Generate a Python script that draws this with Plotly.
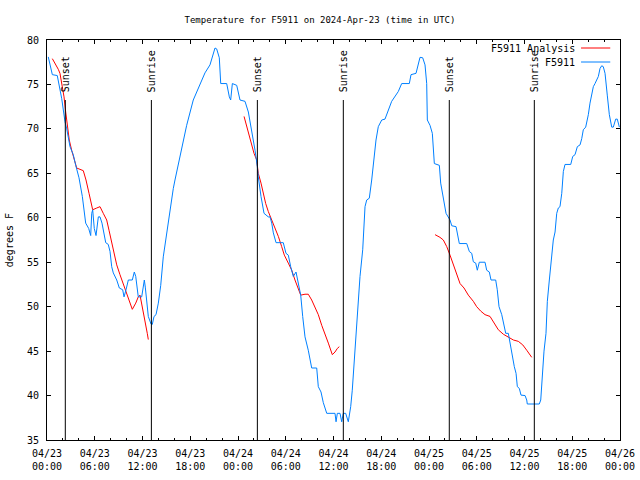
import pandas as pd
import plotly.graph_objects as go

START = pd.Timestamp("2024-04-23 00:00")

# Observed F5911 temperature: hours since 2024-04-23 00:00 UTC, degrees F
obs_hours = [0.16, 0.67, 1.29, 1.51, 1.85, 2.26, 2.48, 2.89, 3.30, 3.61, 4.02, 4.44, 4.65, 4.86, 5.24, 5.40, 5.49,
             5.62, 5.74, 5.94, 6.16, 6.45, 6.66, 6.91, 7.16, 7.38, 7.70, 7.92, 8.13, 8.33, 8.76, 9.09, 9.51, 9.68,
             9.93, 10.22, 10.72, 10.97, 11.15, 11.27, 11.47, 11.90, 12.10, 12.23, 12.35, 12.53, 12.73, 13.07, 13.23,
             13.45, 13.70, 13.99, 14.29, 14.61, 14.92, 15.24, 15.54, 15.87, 16.08, 16.71, 17.55, 18.38, 18.81, 19.23,
             19.85, 20.48, 20.90, 21.11, 21.32, 21.65, 21.83, 22.58, 22.91, 23.08, 23.29, 23.84, 24.25, 24.88, 25.30,
             25.72, 26.14, 26.43, 26.55, 26.89, 27.27, 27.81, 28.02, 28.24, 28.44, 28.78, 29.69, 30.03, 30.32, 30.62,
             30.95, 31.29, 31.58, 31.88, 32.13, 32.42, 32.83, 33.26, 33.89, 34.09, 34.43, 34.72, 35.15, 36.19, 36.32,
             36.48, 36.82, 37.03, 37.23, 37.53, 37.86, 38.16, 38.36, 38.70, 38.99, 39.33, 39.67, 39.96, 40.17, 40.50,
             40.80, 41.09, 41.34, 41.63, 42.06, 42.47, 42.89, 43.31, 44.14, 44.57, 45.53, 45.74, 46.37, 46.66, 46.87,
             47.21, 47.50, 47.71, 47.79, 48.13, 48.42, 48.67, 49.30, 49.47, 49.73, 50.14, 50.64, 50.86, 51.40, 51.81,
             52.74, 53.07, 53.37, 53.57, 53.87, 54.07, 54.32, 55.04, 55.25, 55.58, 55.79, 56.38, 56.58, 56.80, 57.14,
             57.46, 57.64, 57.97, 58.18, 58.52, 58.72, 58.94, 59.10, 59.35, 59.56, 60.07, 60.28, 60.35, 61.86, 62.04,
             62.16, 62.45, 62.70, 62.87, 63.12, 63.42, 63.62, 63.84, 64.05, 64.25, 64.46, 64.68, 64.88, 65.09, 65.81,
             66.06, 66.35, 66.64, 66.98, 67.19, 67.39, 67.69, 68.02, 68.23, 68.65, 68.86, 69.28, 69.49, 69.70, 69.90,
             70.12, 70.40, 70.66, 70.96, 71.16, 71.46, 71.66, 71.92]
obs_temps = [78.1, 76.1, 76.0, 75.1, 73.4, 70.8, 70.0, 68.0, 67.1, 65.9, 64.5, 62.4, 60.5, 59.4, 58.8, 58.3, 58.0,
             60.5, 60.9, 58.8, 58.0, 60.1, 60.1, 59.4, 58.3, 57.2, 57.0, 56.2, 54.5, 53.8, 53.0, 52.1, 51.9, 51.1,
             51.9, 53.0, 53.0, 53.9, 53.4, 52.2, 51.1, 51.1, 52.2, 53.0, 52.2, 50.4, 48.9, 48.05, 48.0,
             48.9, 49.1, 50.4, 52.4, 55.6, 57.5, 59.6, 61.6, 63.3, 64.25, 66.9, 70.4, 73.25, 74.2, 75.1,
             76.3, 77.2, 78.3, 79.1, 79.0, 78.0, 75.1, 75.1, 73.6, 73.25, 75.1, 74.9, 73.25, 73.1, 71.9,
             69.9, 67.6, 65.75, 64.6, 62.4, 60.5, 60.1, 60.1, 59.4, 58.3, 57.2, 57.2, 56.0, 55.8, 54.5,
             53.4, 53.9, 52.6, 51.3, 48.9, 46.6, 45.1, 43.1, 43.1, 41.0, 40.4, 39.2, 38.0, 38.0, 37.05,
             38.0, 38.0, 37.05, 38.0, 38.0, 37.05, 38.75, 40.6, 45.1, 49.6, 53.4, 56.4, 61.25, 62.0, 62.2,
             64.25, 66.5, 68.75, 70.25, 71.0, 71.1, 72.1, 73.1, 74.2, 75.1, 75.1, 76.1, 76.25, 77.4, 78.05,
             78.0, 77.2, 75.1, 71.0, 70.4, 69.5, 66.1, 65.9, 63.9, 62.4, 60.5, 59.75, 59.1, 59.0, 57.1,
             57.1, 56.2, 56.0, 55.05, 54.9, 54.1, 55.0, 55.0, 54.1, 53.9, 53.0, 53.0, 51.9, 50.0, 49.1,
             47.9, 47.0, 47.0, 45.9, 44.2, 43.25, 42.5, 41.0, 40.8, 40.05, 40.0, 39.5, 39.05, 39.05, 39.5,
             41.4, 45.0, 47.0, 50.6, 53.0, 55.6, 57.5, 58.4, 60.5, 61.1, 61.25, 62.75, 65.2, 66.0, 66.0,
             66.9, 67.1, 68.0, 68.2, 68.9, 69.9, 70.2, 71.6, 72.9, 74.75, 75.1, 75.9, 76.8, 77.1, 77.0,
             76.25, 73.8, 71.6, 70.2, 70.2, 71.1, 71.1, 70.2]

# Analysis series (three 12-hour runs, None = gap)
ana_hours = [0.67, 1.01, 1.42, 1.63, 1.85, 2.14, 2.35, 2.55, 2.80, 3.10, 3.52, 3.73, 4.56, 4.90, 5.28, 5.62, 5.74,
             6.25, 6.66, 7.07, 7.50, 7.79, 8.13, 8.42, 8.76, 9.17, 9.68, 10.09, 10.43, 10.72, 11.15, 11.47, 11.69,
             11.90, 12.19, 12.44, 12.60, 12.73, 18.0,
             24.76, 25.01, 25.30, 25.72, 26.01, 26.35, 26.55, 26.89, 27.18, 27.48, 27.81, 28.24, 28.65, 29.07,
             29.49, 29.82, 30.32, 30.75, 31.16, 31.50, 31.88, 32.42, 32.83, 33.26, 33.68, 34.09, 34.52, 34.93,
             35.35, 35.85, 36.19, 36.48, 36.73, 42.0,
             48.76, 49.38, 49.80, 50.23, 50.64, 51.06, 51.48, 51.90, 52.40, 52.94, 53.57, 53.99, 54.50, 55.04,
             55.67, 56.17, 56.71, 57.34, 57.97, 58.60, 59.22, 59.78, 60.28, 60.91]
ana_temps = [77.9, 77.4, 76.7, 76.25, 75.1, 73.6, 71.9, 70.25, 68.75, 67.6, 66.1, 65.6, 65.3, 64.25, 62.75, 61.25, 60.9,
             61.1, 61.25, 60.5, 59.75, 58.6, 57.1, 56.0, 54.7, 53.6, 52.25, 51.3, 50.4, 49.7, 50.4, 51.1, 51.3,
             50.4, 48.9, 47.75, 47.0, 46.3, None,
             71.4, 70.6, 69.5, 68.4, 67.25, 66.5, 65.0, 63.9, 62.75, 61.6, 60.7, 59.75, 59.0, 57.9,
             56.75, 55.8, 54.9, 54.1, 53.0, 52.1, 51.3, 51.4, 51.4, 50.75, 50.0, 49.1, 47.9, 47.0,
             45.9, 44.6, 44.9, 45.3, 45.5, None,
             58.1, 57.8, 57.5, 56.75, 55.8, 54.7, 53.6, 52.6, 52.1, 51.3, 50.6, 50.0, 49.5, 49.1,
             48.9, 48.1, 47.4, 46.9, 46.6, 46.25, 46.1, 45.7, 45.1, 44.3]

# Sun events
event_times = ["2024-04-23 02:18", "2024-04-23 13:07", "2024-04-24 02:26",
               "2024-04-24 13:14", "2024-04-25 02:33", "2024-04-25 13:14"]
event_labels = ["Sunset", "Sunrise", "Sunset", "Sunrise", "Sunset", "Sunrise"]

tick_times = pd.date_range("2024-04-23 00:00", "2024-04-26 00:00", freq="6h")
tick_text = [t.strftime("%m/%d<br>%H:%M") for t in tick_times]

FONT = "DejaVu Sans Mono"
RED = "#ff0000"
BLUE = "#0080ff"

def to_time(hours):
    return [START + pd.Timedelta(hours=h) for h in hours]

fig = go.Figure()
fig.add_trace(go.Scatter(x=to_time(ana_hours), y=ana_temps, mode="lines",
                         line=dict(color=RED, width=1), name="F5911 Analysis",
                         connectgaps=False, showlegend=False))
fig.add_trace(go.Scatter(x=to_time(obs_hours), y=obs_temps, mode="lines",
                         line=dict(color=BLUE, width=1), name="F5911", showlegend=False))

for t, lab in zip(event_times, event_labels):
    fig.add_shape(type="line", xref="x", yref="paper", x0=t, x1=t, y0=0, y1=0.85,
                  line=dict(color="black", width=1))
    fig.add_annotation(x=t, xref="x", y=0.865, yref="paper", text=lab, textangle=-90,
                       showarrow=False, xanchor="center", yanchor="bottom",
                       font=dict(family=FONT, size=10, color="black"))

# legend (gnuplot style: text then sample)
legend_items = [("F5911 Analysis", RED, 0.98), ("F5911", BLUE, 0.945)]
for txt, col, yy in legend_items:
    fig.add_annotation(x=0.925, xref="paper", y=yy, yref="paper", text=txt, showarrow=False,
                       xanchor="right", yanchor="middle", font=dict(family=FONT, size=10, color="black"))
    fig.add_shape(type="line", xref="paper", yref="paper", x0=0.932, x1=0.983, y0=yy, y1=yy,
                  line=dict(color=col, width=1))

fig.add_annotation(x=-0.066, xref="paper", y=0.5, yref="paper", text="degrees F", textangle=-90,
                   showarrow=False, xanchor="center", yanchor="middle",
                   font=dict(family=FONT, size=10, color="black"))

fig.update_layout(
    width=640, height=480,
    margin=dict(l=47, r=20, t=40, b=40, autoexpand=False),
    paper_bgcolor="white", plot_bgcolor="white",
    title=dict(text="Temperature for F5911 on 2024-Apr-23 (time in UTC)", x=0.5, xanchor="center",
               y=1 - 20 / 480, yanchor="middle", font=dict(family=FONT, size=9, color="black")),
    showlegend=False,
    font=dict(family=FONT, size=10, color="black"),
)
fig.update_xaxes(range=[tick_times[0], tick_times[-1]], tickvals=list(tick_times), ticktext=tick_text,
                 automargin=False,
                 showgrid=False, zeroline=False, showline=True, linecolor="black", linewidth=1,
                 mirror="ticks", ticks="inside", ticklen=4, tickcolor="black", ticklabelstandoff=4,
                 minor=dict(dtick=2 * 3600 * 1000, ticks="inside", ticklen=2, tickcolor="black", showgrid=False),
                 tickfont=dict(family=FONT, size=10))
fig.update_yaxes(range=[35, 80], dtick=5, showgrid=False, zeroline=False, showline=True, linecolor="black",
                 automargin=False, ticklabelstandoff=5,
                 linewidth=1, mirror="ticks", ticks="inside", ticklen=4, tickcolor="black",
                 tickfont=dict(family=FONT, size=10))

fig.write_html("out.html")
